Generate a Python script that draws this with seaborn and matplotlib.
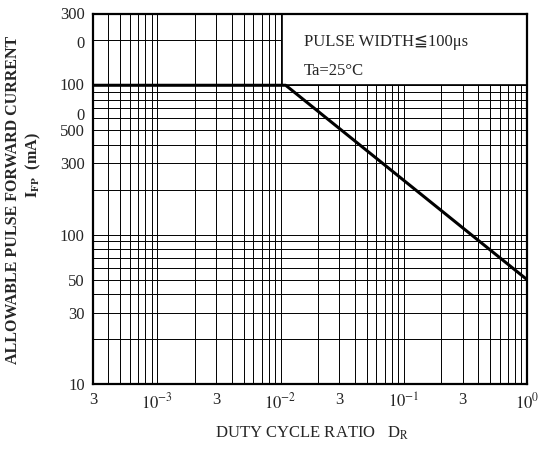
import numpy as np
import matplotlib
matplotlib.use("Agg")
import matplotlib.pyplot as plt
from matplotlib.transforms import ScaledTranslation
from matplotlib.ticker import FixedLocator, NullFormatter
import seaborn as sns

# curve
duty_ratio = [3e-4, 0.011, 1.0]
ifp_ma = [1000, 1000, 50]

x_ticks = [3e-4, 1e-3, 3e-3, 1e-2, 3e-2, 1e-1, 3e-1, 1.0]
x_labels = ["3", "$10^{-3}$", "3", "$10^{-2}$", "3", "$10^{-1}$", "3", "$10^{0}$"]
y_ticks = [10, 30, 50, 100, 300, 500, 1000, 3000]
y_labels = ["10", "30", "50", "100", "300", "500", "100\n0", "300\n0"]

sns.set_style("white")
plt.rcParams["font.family"] = ["Liberation Serif", "DejaVu Serif", "DejaVu Sans"]
plt.rcParams["mathtext.fontset"] = "stix"

fig = plt.figure(figsize=(5.39, 4.51), dpi=100)
ax = fig.add_axes([93 / 539, 1 - 384 / 451, 434 / 539, 370 / 451])

sns.lineplot(x=duty_ratio, y=ifp_ma, color="black", linewidth=2.2, ax=ax, zorder=5)

ax.set_xscale("log")
ax.set_yscale("log")
ax.set_xlim(3e-4, 1.0)
ax.set_ylim(10, 3000)

# grid on every minor decade step
xminor = [m * 10.0 ** e for e in range(-4, 1) for m in range(1, 10)]
yminor = [m * 10.0 ** e for e in range(1, 4) for m in range(1, 10)]
ax.xaxis.set_minor_locator(FixedLocator(xminor))
ax.yaxis.set_minor_locator(FixedLocator(yminor))
ax.xaxis.set_minor_formatter(NullFormatter())
ax.yaxis.set_minor_formatter(NullFormatter())
ax.grid(True, which="both", color="black", linewidth=0.7)

ax.set_xticks(x_ticks)
ax.set_xticklabels(x_labels, fontsize=12)
ax.set_yticks(y_ticks)
ax.set_yticklabels(y_labels, fontsize=12, linespacing=2.1)
ax.tick_params(which="both", length=0, pad=6)
for lab in ax.get_yticklabels():
    if "\n" in lab.get_text():
        lab.set_verticalalignment("top")
        lab.set_transform(lab.get_transform() + ScaledTranslation(0, 5 / 72, fig.dpi_scale_trans))

for sp in ax.spines.values():
    sp.set_color("black")
    sp.set_linewidth(1.6)
    sp.set_zorder(10)

# condition box, bottom edge sits on the 1000 mA line
box_x0 = 0.436
box_y0 = np.log10(1000 / 10) / np.log10(3000 / 10)
ax.add_patch(plt.Rectangle((box_x0, box_y0), 1 - box_x0, 1 - box_y0, transform=ax.transAxes,
                           facecolor="white", edgecolor="black", linewidth=1.2, zorder=4))
ax.text(box_x0 + 0.05, 0.925, "PULSE WIDTH≦100μs", transform=ax.transAxes,
        fontsize=12, va="center", ha="left", zorder=9)
ax.text(box_x0 + 0.05, 0.847, "Ta=25°C", transform=ax.transAxes,
        fontsize=12, va="center", ha="left", zorder=9)

fig.text(13 / 539, 1 - 200 / 451, "ALLOWABLE PULSE FORWARD CURRENT", rotation=90,
         ha="center", va="center", fontsize=11.5, fontweight="bold")
fig.text(33 / 539, 1 - 165 / 451, "$\\mathbf{I_{FP}}$  (mA)", rotation=90,
         ha="center", va="center", fontsize=11.5, fontweight="bold")
fig.text(312 / 539, 1 - 433 / 451, "DUTY CYCLE RATIO   D$_\\mathrm{R}$",
         ha="center", va="center", fontsize=12)

fig.savefig("out.png", dpi=100)
